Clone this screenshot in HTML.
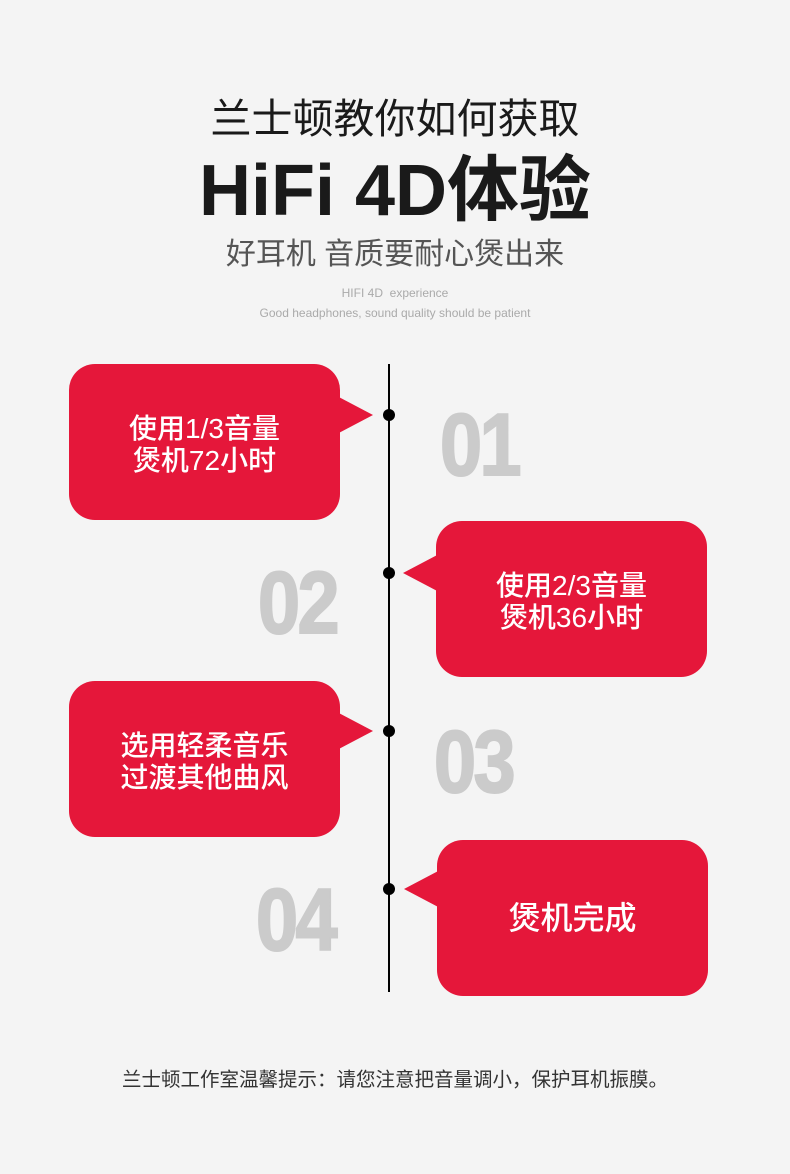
<!DOCTYPE html>
<html><head><meta charset="utf-8"><style>
*{margin:0;padding:0;box-sizing:border-box}
body{width:790px;height:1174px;background:#f4f4f4;position:relative;overflow:hidden;font-family:"Liberation Sans","Noto Sans CJK SC",sans-serif}
.a{position:absolute;white-space:nowrap}
.c{left:0;width:790px;text-align:center}
.box{position:absolute;width:271px;height:156px;background:#e5173a;border-radius:26px;color:#fff;font-size:28px;line-height:32px;display:flex;align-items:center;justify-content:center;text-align:center;font-weight:500;padding-top:6px}
.num{position:absolute;color:#cbcbcb;font-family:"Liberation Sans",sans-serif;font-weight:bold;font-size:88px;line-height:70px;transform:scaleX(0.86);transform-origin:left top;letter-spacing:-3px;-webkit-text-stroke:2px #cbcbcb}
.dot{position:absolute;width:12px;height:12px;border-radius:50%;background:#000;left:383px}
</style></head><body>
<div class="a c" style="top:93px;font-size:41px;line-height:52px;color:#1a1a1a">兰士顿教你如何获取</div>
<div class="a c" style="top:146px;font-size:72px;line-height:90px;font-weight:bold;color:#1a1a1a;padding-left:0">HiFi 4D体验</div>
<div class="a c" style="top:235px;font-size:30px;line-height:40px;color:#555">好耳机 音质要耐心煲出来</div>
<div class="a c" style="top:285px;font-size:12px;line-height:16px;color:#aaa">HIFI 4D&nbsp; experience</div>
<div class="a c" style="top:305px;font-size:12px;line-height:16px;color:#aaa">Good headphones, sound quality should be patient</div>

<div class="a" style="left:388px;top:364px;width:2px;height:628px;background:#000"></div>
<div class="dot" style="top:409px"></div>
<div class="dot" style="top:567px"></div>
<div class="dot" style="top:725px"></div>
<div class="dot" style="top:883px"></div>

<svg class="a" style="left:0;top:0" width="790" height="1174">
<polygon points="335,395 373,415 335,435" fill="#e5173a"/>
<polygon points="441,553 403,573 441,593" fill="#e5173a"/>
<polygon points="335,711 373,731 335,751" fill="#e5173a"/>
<polygon points="442,869 404,889 442,909" fill="#e5173a"/>
</svg>

<div class="box" style="left:69px;top:364px">使用1/3音量<br>煲机72小时</div>
<div class="box" style="left:436px;top:521px">使用2/3音量<br>煲机36小时</div>
<div class="box" style="left:69px;top:681px">选用轻柔音乐<br>过渡其他曲风</div>
<div class="box" style="left:437px;top:840px;font-size:32px;padding-top:0">煲机完成</div>

<div class="num" style="left:440px;top:410px">01</div>
<div class="num" style="left:258px;top:568px">02</div>
<div class="num" style="left:434px;top:727px">03</div>
<div class="num" style="left:256px;top:885px">04</div>

<div class="a c" style="top:1067px;font-size:19.5px;line-height:26px;color:#333">兰士顿工作室温馨提示：请您注意把音量调小，保护耳机振膜。</div>
</body></html>
